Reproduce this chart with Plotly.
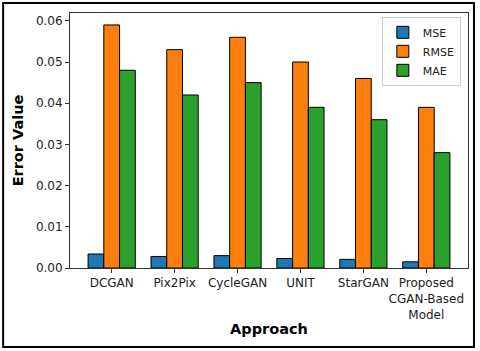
import plotly.graph_objects as go

approaches = ["DCGAN", "Pix2Pix", "CycleGAN", "UNIT", "StarGAN", "Proposed<br>CGAN-Based<br>Model"]
mse = [0.0034, 0.0028, 0.0030, 0.0023, 0.0021, 0.0015]
rmse = [0.059, 0.053, 0.056, 0.050, 0.046, 0.039]
mae = [0.048, 0.042, 0.045, 0.039, 0.036, 0.028]

font = "DejaVu Sans"

fig = go.Figure()
fig.add_trace(go.Bar(x=approaches, y=mse, name="MSE", marker=dict(color="#1f77b4", line=dict(color="black", width=1))))
fig.add_trace(go.Bar(x=approaches, y=rmse, name="RMSE", marker=dict(color="#ff7f0e", line=dict(color="black", width=1))))
fig.add_trace(go.Bar(x=approaches, y=mae, name="MAE", marker=dict(color="#2ca02c", line=dict(color="black", width=1))))

fig.update_layout(
    width=480, height=351,
    margin=dict(l=70, r=12, t=13, b=83),
    paper_bgcolor="white", plot_bgcolor="white",
    font=dict(family=font, size=12, color="#222"),
    barmode="group", bargap=0.25, bargroupgap=0,
    legend=dict(x=0.982, y=0.985, xanchor="right", yanchor="top",
                bordercolor="#cccccc", borderwidth=1, bgcolor="white",
                font=dict(size=11), tracegroupgap=0),
)
fig.update_xaxes(
    range=[-0.6625, 5.6625], showline=True, linecolor="#333", mirror=True,
    ticks="outside", ticklen=4, tickcolor="#333", automargin=False, tickangle=0,
    title=dict(text="<b>Approach</b>", font=dict(size=14.5, color="black"), standoff=3),
)
fig.update_yaxes(
    range=[0, 0.0619], dtick=0.01, tickformat=".2f", showgrid=False, zeroline=False,
    showline=True, linecolor="#333", mirror=True,
    ticks="outside", ticklen=4, tickcolor="#333", automargin=False,
    title=dict(text="<b>Error Value</b>", font=dict(size=14.5, color="black"), standoff=8),
)
fig.add_shape(type="rect", xref="paper", yref="paper",
              x0=-0.168, x1=1.015, y0=-0.310, y1=1.039,
              line=dict(color="black", width=2))

# the page body has an 8px default margin; drop it so the figure sits at 0,0
fig.write_html("out.html", config={"displayModeBar": False},
               post_script="document.body.style.margin='0';")
